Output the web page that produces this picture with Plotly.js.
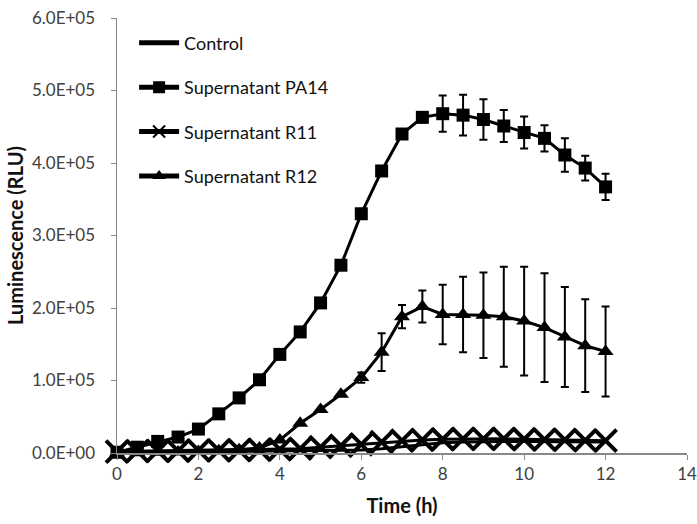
<!DOCTYPE html>
<html>
<head>
<meta charset="utf-8">
<script src="https://cdn.plot.ly/plotly-3.0.1.min.js"></script>
<style>html,body{margin:0;padding:0;background:#fff;}#chart{width:697px;height:524px;}</style>
</head>
<body>
<div id="chart"></div>
<script>
var time = [0,0.5,1,1.5,2,2.5,3,3.5,4,4.5,5,5.5,6,6.5,7,7.5,8,8.5,9,9.5,10,10.5,11,11.5,12];
var control = [500,800,1000,1200,1500,1800,2000,2200,2500,2800,3000,3500,4000,6000,9000,12000,14000,15000,16000,16000,16000,16000,15500,15000,15000];
var pa14 = [1000,8000,16000,22000,33000,54000,76000,101000,136000,167000,207000,259000,330000,389000,440000,463000,468000,466000,460000,451000,442000,434000,411000,393000,367000];
var pa14Err = [0,0,0,0,0,0,0,0,0,0,0,0,0,2000,4000,7000,25000,28000,28000,22000,22000,18000,23000,17000,18000];
var r11 = [2000,2500,3000,3000,3500,3500,4000,4500,5000,6000,8000,10000,12000,15000,17000,18000,19000,19500,19500,19500,19000,18500,18000,17500,17000];
var r12 = [0,500,1000,1500,2000,3000,4500,7000,18000,41000,60000,81000,104000,139000,188000,202000,191000,191000,190000,188000,182000,173000,160000,148000,140000];
var r12Err = [0,0,0,0,0,0,0,0,0,0,0,0,7000,26000,16000,22000,41000,52000,59000,69000,75000,75000,69000,64000,62000];
var yTickVals = [0,100000,200000,300000,400000,500000,600000];
var yTickText = ["0.0E+00","1.0E+05","2.0E+05","3.0E+05","4.0E+05","5.0E+05","6.0E+05"];
var xTickVals = [0,2,4,6,8,10,12,14];
var names = ["Control","Supernatant PA14","Supernatant R11","Supernatant R12"];

var lineStyle = {color:"#000", width:3};
var traces = [
  {x:time, y:control, name:names[0], mode:"lines", line:lineStyle, legendgroup:"a", type:"scatter", cliponaxis:false},
  {x:time, y:pa14, name:names[1], mode:"lines+markers", line:lineStyle, legendgroup:"b", type:"scatter", cliponaxis:false,
   marker:{symbol:"square", size:13, color:"#000"},
   error_y:{type:"data", array:pa14Err, visible:true, color:"#000", thickness:2, width:4}},
  {x:time, y:r11, name:names[2], mode:"lines+markers", line:lineStyle, legendgroup:"c", type:"scatter", cliponaxis:false,
   marker:{symbol:"x-thin-open", size:22, color:"#000", line:{color:"#000", width:4}}},
  {x:time, y:r12, name:names[3], mode:"lines+markers", line:lineStyle, legendgroup:"d", type:"scatter", cliponaxis:false,
   marker:{symbol:"triangle-up", size:14, color:"#000"},
   error_y:{type:"data", array:r12Err, visible:true, color:"#000", thickness:2, width:4}}
];
var font = "Lato, sans-serif";
var layout = {
  width:697, height:524,
  margin:{l:117, r:10, t:18, b:71},
  paper_bgcolor:"#fff", plot_bgcolor:"#fff",
  font:{family:font, size:14, color:"#333"},
  showlegend:true,
  legend:{x:0.03, y:0.985, xanchor:"left", yanchor:"top", bgcolor:"rgba(0,0,0,0)",
          font:{family:font, size:18, color:"#111"}, tracegroupgap:18, itemsizing:"constant", itemwidth:40},
  xaxis:{range:[0,14], tickvals:xTickVals, showgrid:false, zeroline:false, showline:true,
         linecolor:"#888", linewidth:1.5, ticks:"outside", ticklen:5, tickcolor:"#888",
         tickfont:{family:font, size:17, color:"#404040"},
         title:{text:"<b>Time (h)</b>", font:{family:font, size:20, color:"#111"}, standoff:16}},
  yaxis:{range:[0,600000], tickvals:yTickVals, ticktext:yTickText, showgrid:false, zeroline:false, showline:true,
         linecolor:"#888", linewidth:1.5, ticks:"outside", ticklen:5, tickcolor:"#888",
         ticklabelstandoff:12,
         tickfont:{family:font, size:17, color:"#404040"},
         title:{text:"<b>Luminescence (RLU)</b>", font:{family:font, size:20, color:"#111"}, standoff:3}}
};
Plotly.newPlot("chart", traces, layout, {staticPlot:true});
</script>
</body>
</html>
